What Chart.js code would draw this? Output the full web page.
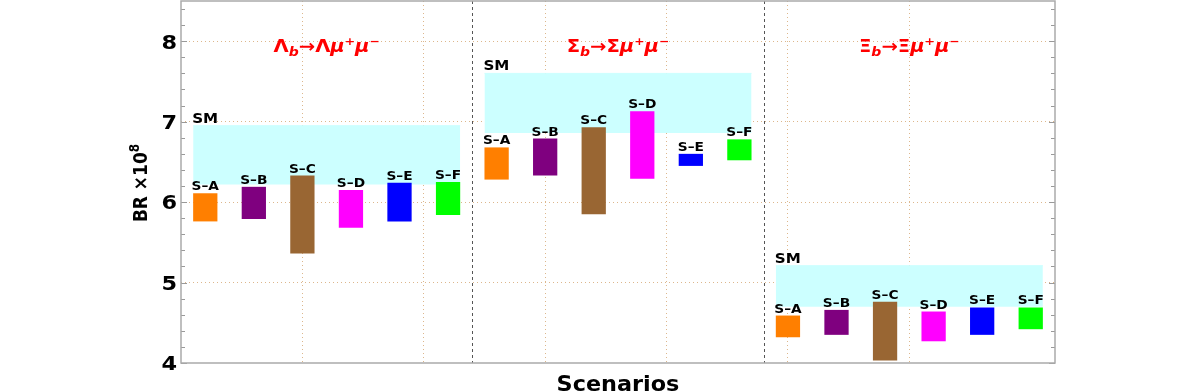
<!DOCTYPE html>
<html>
<head>
<meta charset="utf-8">
<script src="https://cdn.jsdelivr.net/npm/chart.js@4.4.0/dist/chart.umd.min.js"></script>
<style>
  html, body { margin: 0; padding: 0; background: #fff; }
</style>
</head>
<body>
<canvas id="brChart" width="1177" height="392"></canvas>
<script>
// values (BR x 10^8)
const scenarios = ['S\u2013A', 'S\u2013B', 'S\u2013C', 'S\u2013D', 'S\u2013E', 'S\u2013F'];
const baryons = ['\u039B', '\u03A3', '\u039E'];

const lambdaLow  = [5.76, 5.79, 5.36, 5.68, 5.76, 5.84];
const lambdaHigh = [6.11, 6.19, 6.33, 6.15, 6.24, 6.25];
const sigmaLow   = [6.28, 6.33, 5.85, 6.29, 6.45, 6.52];
const sigmaHigh  = [6.68, 6.79, 6.93, 7.13, 6.60, 6.78];
const xiLow      = [4.32, 4.35, 4.03, 4.27, 4.35, 4.42];
const xiHigh     = [4.59, 4.66, 4.76, 4.64, 4.69, 4.69];

const smLow  = [6.22, 6.86, 4.70];
const smHigh = [6.95, 7.60, 5.21];

const yTickLabels = [4, 5, 6, 7, 8];

const scenarioColors = ['#ff7f00', '#7f007f', '#996633', '#ff00ff', '#0000ff', '#00ff00'];
const FONT = "'DejaVu Sans', sans-serif";
const GRID = 'rgba(215,170,120,0.85)';
const PANEL = 12;

const panelLow = [lambdaLow, sigmaLow, xiLow];
const panelHigh = [lambdaHigh, sigmaHigh, xiHigh];

const barData = [];
const barColors = [];
const barNames = [];
panelLow.forEach((lows, p) => {
  lows.forEach((lo, i) => {
    barData.push({ x: p * PANEL + 2 * i + 1, y: [lo, panelHigh[p][i]] });
    barColors.push(scenarioColors[i]);
    barNames.push(scenarios[i]);
  });
});

const bandSets = smLow.map((lo, p) => ({
  type: 'line',
  data: [{ x: p * PANEL + 0.5, y: smHigh[p] }, { x: p * PANEL + 11.5, y: smHigh[p] }],
  fill: { value: lo },
  backgroundColor: '#ccffff',
  borderColor: '#ccffff',
  borderWidth: 1,
  pointRadius: 0,
  order: 2
}));

// draws a run of text pieces, stretched a little in x like the picture
function drawParts(ctx, parts, x, y, align, sx, rotate) {
  ctx.save();
  let w = 0;
  parts.forEach(p => {
    ctx.font = (p.style || '') + ' bold ' + p.size + 'px ' + FONT;
    p.w = ctx.measureText(p.t).width;
    w += p.w;
  });
  ctx.translate(x, y);
  ctx.scale(sx, 1);
  if (rotate) ctx.rotate(-Math.PI / 2);
  let cx = align === 'center' ? -w / 2 : (align === 'right' ? -w : 0);
  ctx.textAlign = 'left';
  ctx.textBaseline = 'alphabetic';
  parts.forEach(p => {
    ctx.font = (p.style || '') + ' bold ' + p.size + 'px ' + FONT;
    ctx.fillText(p.t, cx, p.dy || 0);
    cx += p.w;
  });
  ctx.restore();
}

const decor = {
  id: 'decor',
  beforeDatasetsDraw(chart) {
    const { ctx, chartArea: a, scales: { x, y } } = chart;
    ctx.save();
    // panel separators
    ctx.strokeStyle = '#555';
    ctx.lineWidth = 1;
    ctx.setLineDash([3, 3]);
    [1, 2].forEach(k => {
      const px = Math.round(x.getPixelForValue(k * PANEL)) + 0.5;
      ctx.beginPath();
      ctx.moveTo(px, a.top);
      ctx.lineTo(px, a.bottom);
      ctx.stroke();
    });
    ctx.setLineDash([]);
    // inward ticks on left and right
    ctx.strokeStyle = '#999';
    ctx.lineWidth = 1;
    y.ticks.forEach(t => {
      const major = Math.abs(t.value - Math.round(t.value)) < 1e-6;
      const len = major ? 6 : 4;
      const py = Math.round(y.getPixelForValue(t.value)) + 0.5;
      ctx.beginPath();
      ctx.moveTo(a.left, py); ctx.lineTo(a.left + len, py);
      ctx.moveTo(a.right, py); ctx.lineTo(a.right - len, py);
      ctx.stroke();
    });
    // frame
    ctx.strokeStyle = '#aaa';
    ctx.lineWidth = 1.5;
    ctx.strokeRect(a.left, a.top, a.right - a.left, a.bottom - a.top);
    ctx.restore();
  },
  afterDatasetsDraw(chart) {
    const { ctx, chartArea: a, scales: { x, y } } = chart;
    ctx.save();
    ctx.fillStyle = '#000';
    // scenario labels over each bar
    const meta = chart.getDatasetMeta(0);
    meta.data.forEach((bar, i) => {
      const top = Math.min(bar.y, bar.base);
      drawParts(ctx, [{ t: barNames[i], size: 12.5 }], bar.x, top - 3, 'center', 1.1);
    });
    // SM labels
    smHigh.forEach((hi, p) => {
      const px = x.getPixelForValue(p * PANEL + 0.5) - 1;
      drawParts(ctx, [{ t: 'SM', size: 14 }], px, y.getPixelForValue(hi) - 3, 'left', 1.08);
    });
    // decay titles
    ctx.fillStyle = '#ff0000';
    baryons.forEach((b, p) => {
      const parts = [
        { t: b, size: 17.5 },
        { t: 'b', size: 12.5, style: 'italic', dy: 4 },
        { t: '\u2192', size: 17.5 },
        { t: b, size: 17.5 },
        { t: '\u03BC', size: 17.5, style: 'italic' },
        { t: '+', size: 11, dy: -7 },
        { t: '\u03BC', size: 17.5, style: 'italic' },
        { t: '\u2212', size: 11, dy: -7 }
      ];
      drawParts(ctx, parts, x.getPixelForValue(p * PANEL + 6), y.getPixelForValue(8) + 11, 'center', 1.12);
    });
    // y tick labels
    ctx.fillStyle = '#000';
    yTickLabels.forEach(v => {
      drawParts(ctx, [{ t: String(v), size: 20 }], a.left - 4, y.getPixelForValue(v) + 7.3, 'right', 1.12);
    });
    // axis titles
    drawParts(ctx, [{ t: 'Scenarios', size: 20.5 }], (a.left + a.right) / 2, 391, 'center', 1.09);
    drawParts(ctx, [{ t: 'BR \u00D710', size: 17 }, { t: '8', size: 12, dy: -7 }],
      139.5 + 6.2 * 1.15, 183, 'center', 1.15, true);
    ctx.restore();
  }
};

new Chart(document.getElementById('brChart'), {
  type: 'bar',
  data: {
    datasets: [
      {
        type: 'bar',
        data: barData,
        backgroundColor: barColors,
        borderWidth: 0,
        barPercentage: 0.5,
        categoryPercentage: 1,
        order: 1
      },
      ...bandSets
    ]
  },
  options: {
    responsive: false,
    animation: false,
    layout: { padding: { left: 181, right: 122, top: 1, bottom: 29 } },
    plugins: { legend: { display: false }, tooltip: { enabled: false } },
    scales: {
      x: {
        type: 'linear',
        min: 0,
        max: 36,
        offset: false,
        afterBuildTicks: scale => {
          scale.ticks = [5, 10, 15, 20, 25, 30].map(v => ({ value: v }));
        },
        ticks: { display: false },
        grid: { offset: false, drawTicks: false, color: GRID, lineWidth: 1 },
        border: { display: false, dash: [1, 3] }
      },
      y: {
        type: 'linear',
        min: 4,
        max: 8.5,
        ticks: { display: false, stepSize: 0.2, includeBounds: false },
        grid: {
          drawTicks: false,
          lineWidth: 1,
          color: c => {
            const v = c.tick ? c.tick.value : 0;
            const isInt = Math.abs(v - Math.round(v)) < 1e-6;
            return isInt && Math.round(v) > 4 ? GRID : 'rgba(0,0,0,0)';
          }
        },
        border: { display: false, dash: [1, 3] }
      }
    }
  },
  plugins: [decor]
});
</script>
</body>
</html>
